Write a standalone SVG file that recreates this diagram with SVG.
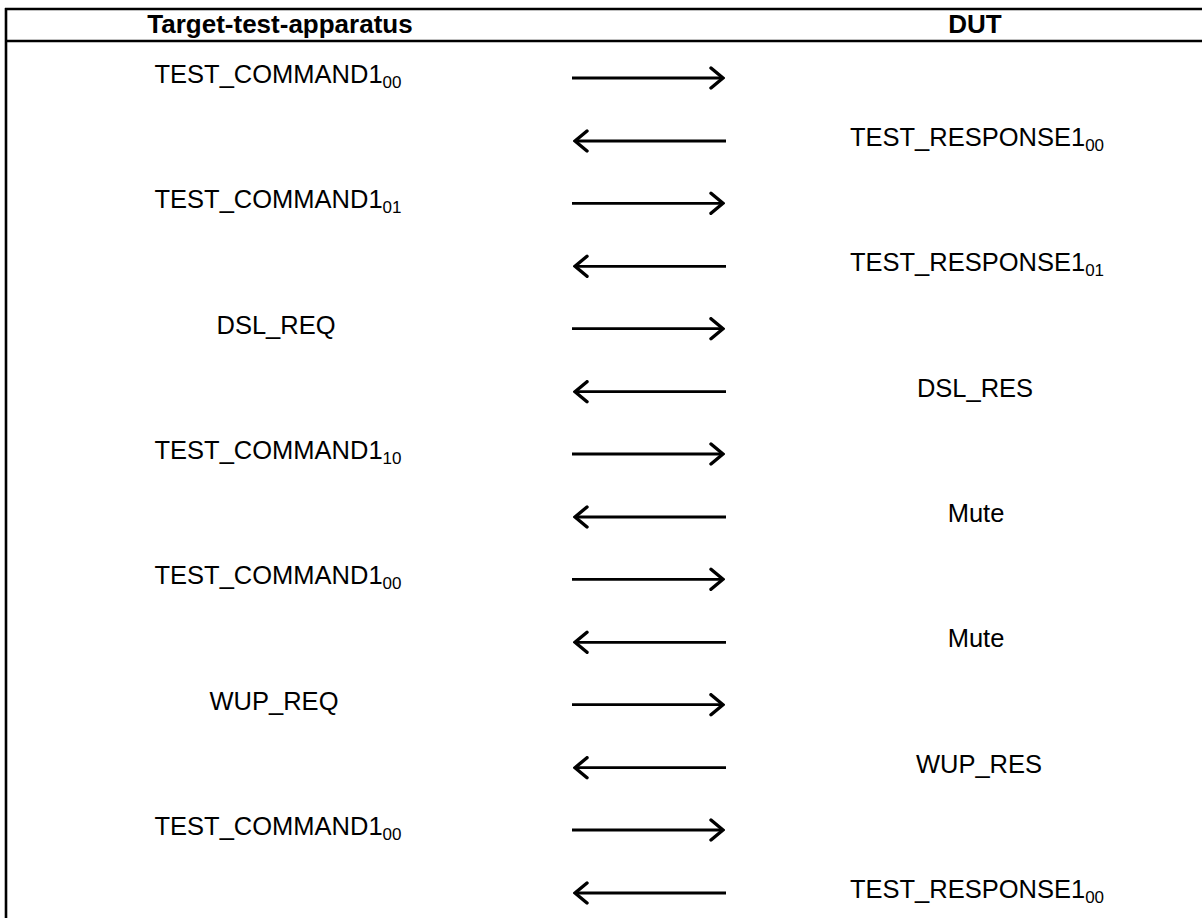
<svg xmlns="http://www.w3.org/2000/svg" width="1202" height="918" viewBox="0 0 1202 918">
<style>
.t{font-family:"Liberation Sans",Arial,sans-serif;font-size:25.5px;fill:#000;text-anchor:middle}
.h{font-family:"Liberation Sans",Arial,sans-serif;font-size:26px;font-weight:bold;fill:#000;text-anchor:middle}
.s{font-size:17px}
.frame{stroke:#000;stroke-width:2.6;fill:none}
.msg{stroke:#000;stroke-width:2.8;fill:none;marker-end:url(#ah)}
</style>
<defs>
<marker id="ah" viewBox="0 0 16 24" refX="14" refY="12" markerWidth="16" markerHeight="24" markerUnits="userSpaceOnUse" orient="auto">
<path d="M2,2 L14,12 L2,22" fill="none" stroke="#000" stroke-width="3.4" stroke-linecap="round" stroke-linejoin="miter"/>
</marker>
</defs>
<rect width="1202" height="918" fill="#fff"/>
<g id="frame">
<line class="frame" x1="5" y1="9" x2="1202" y2="9"/>
<line class="frame" x1="5" y1="41" x2="1202" y2="41"/>
<line class="frame" x1="6" y1="8" x2="6" y2="918"/>
</g>
<g id="header-target"><text class="h" x="280" y="33">Target-test-apparatus</text></g>
<g id="header-dut"><text class="h" x="975" y="33">DUT</text></g>
<g id="connectors">
<line class="msg" x1="572" y1="78" x2="723" y2="78"/>
<line class="msg" x1="726" y1="141" x2="575" y2="141"/>
<line class="msg" x1="572" y1="203.3" x2="723" y2="203.3"/>
<line class="msg" x1="726" y1="266.3" x2="575" y2="266.3"/>
<line class="msg" x1="572" y1="328.7" x2="723" y2="328.7"/>
<line class="msg" x1="726" y1="391.7" x2="575" y2="391.7"/>
<line class="msg" x1="572" y1="454" x2="723" y2="454"/>
<line class="msg" x1="726" y1="517" x2="575" y2="517"/>
<line class="msg" x1="572" y1="579.3" x2="723" y2="579.3"/>
<line class="msg" x1="726" y1="642.3" x2="575" y2="642.3"/>
<line class="msg" x1="572" y1="704.7" x2="723" y2="704.7"/>
<line class="msg" x1="726" y1="767.7" x2="575" y2="767.7"/>
<line class="msg" x1="572" y1="830" x2="723" y2="830"/>
<line class="msg" x1="726" y1="893" x2="575" y2="893"/>
</g>
<g id="left-labels">
<g id="cmd1"><text class="t" x="278" y="83">TEST_COMMAND1<tspan class="s" dy="5">00</tspan></text></g>
<g id="cmd2"><text class="t" x="278" y="208.3">TEST_COMMAND1<tspan class="s" dy="5">01</tspan></text></g>
<g id="dslreq"><text class="t" x="276" y="334">DSL_REQ</text></g>
<g id="cmd3"><text class="t" x="278" y="459">TEST_COMMAND1<tspan class="s" dy="5">10</tspan></text></g>
<g id="cmd4"><text class="t" x="278" y="584.3">TEST_COMMAND1<tspan class="s" dy="5">00</tspan></text></g>
<g id="wupreq"><text class="t" x="274" y="710">WUP_REQ</text></g>
<g id="cmd5"><text class="t" x="278" y="835">TEST_COMMAND1<tspan class="s" dy="5">00</tspan></text></g>
</g>
<g id="right-labels">
<g id="rsp1"><text class="t" x="977" y="146">TEST_RESPONSE1<tspan class="s" dy="5">00</tspan></text></g>
<g id="rsp2"><text class="t" x="977" y="271.3">TEST_RESPONSE1<tspan class="s" dy="5">01</tspan></text></g>
<g id="dslres"><text class="t" x="975" y="397">DSL_RES</text></g>
<g id="mute1"><text class="t" x="976" y="522">Mute</text></g>
<g id="mute2"><text class="t" x="976" y="647.3">Mute</text></g>
<g id="wupres"><text class="t" x="979" y="773">WUP_RES</text></g>
<g id="rsp3"><text class="t" x="977" y="898">TEST_RESPONSE1<tspan class="s" dy="5">00</tspan></text></g>
</g>
</svg>
